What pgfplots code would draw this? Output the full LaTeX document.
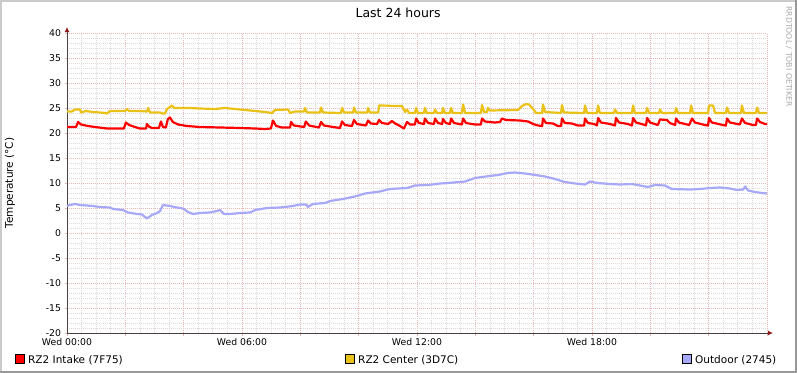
\documentclass[border=0pt]{standalone}
\usepackage{fontspec}
\setmainfont{DejaVu Sans}
\usepackage{pgfplots}
\pgfplotsset{compat=1.18}
\usetikzlibrary{arrows.meta}
\definecolor{cIntake}{HTML}{FF0000}
\definecolor{cCenter}{HTML}{EAC117}
\definecolor{cOutdoor}{HTML}{A8A8F8}
\definecolor{mgrid}{HTML}{E6B6B6}
\definecolor{mingrid}{HTML}{DADADA}
\definecolor{axiscol}{HTML}{4A4040}
\definecolor{arrowcol}{HTML}{8B1A1A}
\definecolor{shadeA}{HTML}{CBCBCB}
\definecolor{shadeB}{HTML}{999999}
\definecolor{wmark}{HTML}{AAAAAA}
\begin{document}
\begin{tikzpicture}
\fill[white] (0bp,0bp) rectangle (797bp,373bp);
\fill[shadeA] (0bp,371bp) rectangle (797bp,373bp);
\fill[shadeA] (0bp,0bp) rectangle (2bp,373bp);
\fill[shadeB] (0bp,0bp) rectangle (797bp,2bp);
\fill[shadeB] (795bp,0bp) rectangle (797bp,373bp);
\begin{axis}[
  at={(67bp,40bp)}, anchor=south west, scale only axis,
  width=700bp, height=300bp,
  xmin=0, xmax=24, ymin=-20, ymax=40,
  axis lines*=left,
  axis line style={draw=axiscol, line width=1bp, -{Latex[length=5bp,width=5bp,color=arrowcol,fill=arrowcol]}, shorten >=-6bp},
  grid=both,
  major grid style={draw=mgrid, dash pattern=on 1bp off 1bp, line width=0.8bp},
  minor grid style={draw=mingrid, dash pattern=on 1bp off 1bp, line width=0.8bp},
  xtick={0,2,...,24},
  xticklabels={Wed 00:00,,,Wed 06:00,,,Wed 12:00,,,Wed 18:00,,,},
  minor x tick num=3,
  ytick={-20,-15,...,40},
  minor y tick num=4,
  tick align=outside, major tick length=2.5bp, minor tick length=0pt,
  major tick style={draw=mgrid, line width=0.8bp},
  tick label style={font=\fontsize{9.3bp}{11bp}\selectfont},
  /pgf/number format/assume math mode=true,
  xticklabel style={yshift=1bp},
  title={Last 24 hours},
  title style={at={(axis description cs:0.473,1)}, anchor=center, yshift=14.5bp, font=\fontsize{12.5bp}{14bp}\selectfont},
  ylabel={Temperature (°C)},
  every axis y label/.style={at={(axis description cs:-0.0814,0.5)}, rotate=90, anchor=center, font=\fontsize{10.5bp}{12bp}\selectfont},
  clip=false,
]
\addplot[cIntake, line width=2.2bp, line join=round] coordinates {
(0.00,21.2)(0.31,21.2)(0.38,22.2)(0.48,21.7)(0.72,21.4)(0.96,21.2)(1.37,20.9)(1.95,20.9)
(2.02,22.1)(2.13,21.6)(2.33,21.2)(2.50,20.9)(2.71,20.9)(2.74,21.8)(2.81,21.3)(2.91,21.0)
(3.15,21.0)(3.22,22.3)(3.29,21.2)(3.39,21.1)(3.46,22.8)(3.53,23.1)(3.63,22.2)(3.81,21.7)
(4.11,21.4)(4.56,21.2)(5.93,21.0)(6.45,20.9)(6.79,20.8)(6.99,20.9)(7.06,22.5)(7.17,21.4)
(7.37,21.1)(7.65,21.1)(7.68,22.2)(7.78,21.5)(8.13,21.2)(8.19,22.3)(8.30,21.5)(8.64,21.1)
(8.71,22.2)(8.81,21.5)(9.12,21.2)(9.36,21.0)(9.43,22.3)(9.53,21.6)(9.77,21.4)(9.84,22.6)
(9.94,21.8)(10.25,21.5)(10.32,22.5)(10.42,21.9)(10.63,21.8)(10.70,22.6)(10.80,22.0)(11.01,21.8)
(11.14,22.4)(11.25,21.9)(11.42,21.4)(11.55,20.9)(11.66,22.2)(11.76,21.7)(11.93,21.7)(11.97,22.9)
(12.07,22.0)(12.24,21.8)(12.27,22.9)(12.38,22.0)(12.58,21.8)(12.62,22.9)(12.72,22.0)(12.86,21.8)
(12.89,22.8)(12.99,22.0)(13.13,21.8)(13.17,22.9)(13.27,22.0)(13.54,21.7)(13.58,22.9)(13.68,22.0)
(13.99,21.7)(14.19,21.7)(14.23,22.9)(14.33,22.3)(14.67,22.1)(14.85,22.2)(14.91,22.9)(15.05,22.6)
(15.53,22.5)(15.81,22.3)(15.98,21.8)(16.15,21.5)(16.29,21.4)(16.32,22.9)(16.42,22.0)(16.66,21.9)
(16.83,21.4)(16.94,21.4)(16.97,22.9)(17.07,22.0)(17.31,21.9)(17.52,21.5)(17.73,21.5)(17.76,22.9)
(17.86,22.0)(18.07,21.8)(18.17,21.5)(18.21,23.0)(18.31,22.1)(18.62,21.8)(18.79,21.5)(18.82,23.0)
(18.93,22.1)(19.23,21.8)(19.37,21.5)(19.41,23.0)(19.51,22.1)(19.82,21.6)(19.85,21.5)(19.89,23.0)
(19.99,22.1)(20.26,21.6)(20.33,22.7)(20.57,22.6)(20.67,22.0)(20.85,21.6)(20.88,22.9)(20.98,22.1)
(21.33,21.6)(21.43,22.9)(21.53,22.1)(21.87,21.6)(21.98,21.5)(22.01,23.0)(22.11,22.1)(22.49,21.6)
(22.59,21.5)(22.63,22.9)(22.73,22.1)(23.07,21.7)(23.14,22.9)(23.25,22.0)(23.52,21.6)(23.62,21.6)
(23.66,22.9)(23.76,22.2)(23.93,21.8)(24.00,21.8)
};
\addplot[cCenter, line width=2.2bp, line join=round] coordinates {
(0.00,24.3)(0.17,24.3)(0.27,24.7)(0.45,24.7)(0.48,24.1)(0.65,24.4)(0.89,24.2)(1.13,24.1)
(1.30,24.0)(1.37,23.9)(1.47,24.4)(1.99,24.4)(2.06,24.8)(2.13,24.4)(2.50,24.4)(2.74,24.3)
(2.78,25.0)(2.85,24.1)(3.19,24.1)(3.26,23.9)(3.36,23.9)(3.43,24.8)(3.60,25.5)(3.67,25.0)
(4.22,25.0)(4.56,24.9)(5.07,24.8)(5.42,25.0)(5.93,24.7)(6.45,24.4)(6.79,24.2)(7.03,24.0)
(7.13,24.6)(7.58,24.7)(7.65,24.0)(7.82,24.3)(8.13,24.3)(8.16,25.0)(8.23,24.1)(8.67,24.1)
(8.71,25.1)(8.78,24.1)(9.39,24.0)(9.43,25.0)(9.50,24.1)(9.81,24.1)(9.84,25.1)(9.91,24.1)
(10.29,24.1)(10.32,25.0)(10.39,24.1)(10.67,24.1)(10.70,25.5)(10.80,25.5)(11.25,25.4)(11.49,25.4)
(11.59,24.2)(11.66,24.7)(11.73,24.0)(11.93,24.0)(11.97,25.0)(12.03,24.0)(12.24,24.0)(12.27,25.0)
(12.34,24.0)(12.58,24.0)(12.62,24.7)(12.69,24.0)(12.86,24.0)(12.89,25.0)(12.96,24.0)(13.13,24.0)
(13.17,25.0)(13.23,24.0)(13.54,24.0)(13.58,25.7)(13.65,24.0)(14.19,24.0)(14.23,25.6)(14.30,24.2)
(14.40,24.2)(14.43,25.0)(14.50,24.5)(15.46,24.6)(15.60,25.4)(15.74,25.8)(15.84,25.7)(15.98,24.8)
(16.08,24.0)(16.29,24.0)(16.32,25.7)(16.39,24.2)(16.94,24.0)(16.97,25.6)(17.04,24.1)(17.73,24.0)
(17.76,25.5)(17.83,24.0)(18.17,24.0)(18.21,25.5)(18.27,24.0)(18.75,24.0)(18.79,24.7)(18.86,24.0)
(19.37,24.0)(19.41,25.5)(19.47,24.0)(19.85,24.0)(19.89,25.0)(19.96,24.0)(20.30,24.0)(20.33,24.7)
(20.40,24.0)(20.85,24.0)(20.88,25.0)(20.95,24.0)(21.36,24.0)(21.40,25.5)(21.46,24.0)(21.98,24.0)
(22.01,25.5)(22.15,25.5)(22.22,24.0)(22.59,24.0)(22.63,25.1)(22.70,24.0)(23.11,24.0)(23.14,25.5)
(23.21,24.0)(23.62,24.0)(23.66,25.1)(23.73,24.0)(24.00,24.0)
};
\addplot[cOutdoor, line width=2.2bp, line join=round] coordinates {
(0.00,5.4)(0.10,5.6)(0.27,5.8)(0.45,5.6)(0.89,5.4)(1.13,5.2)(1.47,5.1)(1.58,4.8)
(1.92,4.6)(2.09,4.1)(2.40,3.8)(2.57,3.7)(2.74,2.9)(2.91,3.6)(3.09,4.0)(3.19,4.4)
(3.29,5.6)(3.53,5.4)(3.77,5.1)(3.98,4.9)(4.15,4.2)(4.32,3.8)(4.56,4.0)(4.90,4.1)
(5.14,4.4)(5.25,4.6)(5.38,3.8)(5.59,3.8)(5.93,4.0)(6.27,4.1)(6.45,4.6)(6.86,5.0)
(7.30,5.1)(7.75,5.4)(7.99,5.7)(8.20,5.7)(8.26,5.2)(8.43,5.8)(8.85,6.0)(9.02,6.4)
(9.46,6.8)(9.87,7.3)(10.22,7.9)(10.73,8.3)(11.07,8.8)(11.66,9.0)(11.93,9.5)(12.38,9.6)
(12.79,9.9)(13.06,10.0)(13.65,10.3)(13.99,11.0)(14.23,11.2)(14.78,11.6)(15.12,12.0)(15.36,12.1)
(15.70,11.9)(15.94,11.7)(16.39,11.3)(16.73,10.8)(17.07,10.2)(17.42,9.9)(17.76,9.7)(17.93,10.3)
(18.17,10.0)(18.62,9.8)(18.96,9.7)(19.37,9.8)(19.65,9.5)(19.92,9.2)(20.16,9.6)(20.50,9.5)
(20.74,8.8)(21.36,8.7)(21.70,8.8)(22.05,9.0)(22.39,9.1)(22.73,8.9)(22.97,8.6)(23.18,8.7)
(23.25,9.3)(23.35,8.5)(23.59,8.2)(23.83,8.0)(24.00,7.9)
};
\end{axis}
\node[rotate=-90, anchor=west, text=wmark, inner sep=0pt, font=\fontsize{7.8bp}{9bp}\selectfont] at (789bp,367bp) {RRDTOOL / TOBI OETIKER};
\begin{scope}[font=\fontsize{10.5bp}{12bp}\selectfont]
\filldraw[fill=cIntake, draw=black, line width=0.6bp] (15bp,9.5bp) rectangle (24bp,18.5bp);
\node[anchor=base west, inner sep=0pt] at (28bp,10bp) {RZ2 Intake (7F75)};
\filldraw[fill=cCenter, draw=black, line width=0.6bp] (345bp,9.5bp) rectangle (354bp,18.5bp);
\node[anchor=base west, inner sep=0pt] at (358bp,10bp) {RZ2 Center (3D7C)};
\filldraw[fill=cOutdoor, draw=black, line width=0.6bp] (682bp,9.5bp) rectangle (691bp,18.5bp);
\node[anchor=base west, inner sep=0pt] at (695bp,10bp) {Outdoor (2745)};
\end{scope}
\end{tikzpicture}
\end{document}
